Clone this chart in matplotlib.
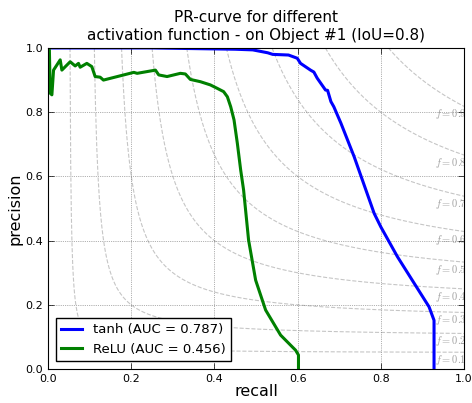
import matplotlib
matplotlib.use("Agg")
import matplotlib.pyplot as plt
import numpy as np

# tanh curve (recall, precision)
tanh_recall = [0.0, 0.25, 0.45, 0.492, 0.528, 0.540, 0.578, 0.599, 0.607, 0.631, 0.639,
               0.647, 0.667, 0.672, 0.680, 0.687, 0.704, 0.736, 0.784, 0.800, 0.840,
               0.916, 0.928, 0.928]
tanh_precision = [1.0, 1.0, 0.996, 0.994, 0.985, 0.980, 0.978, 0.968, 0.952, 0.931, 0.925,
                  0.906, 0.869, 0.868, 0.833, 0.817, 0.766, 0.661, 0.485, 0.443, 0.350,
                  0.194, 0.152, 0.0]

# ReLU curve
relu_recall = [0.0, 0.003, 0.005, 0.009, 0.013, 0.029, 0.033, 0.053, 0.065, 0.073, 0.077,
               0.093, 0.105, 0.113, 0.125, 0.133, 0.206, 0.214, 0.258, 0.266, 0.286,
               0.318, 0.330, 0.342, 0.366, 0.390, 0.407, 0.422, 0.431, 0.439, 0.447,
               0.455, 0.463, 0.470, 0.482, 0.499, 0.523, 0.559, 0.595, 0.602, 0.602]
relu_precision = [1.0, 0.994, 0.859, 0.854, 0.931, 0.963, 0.931, 0.957, 0.944, 0.952, 0.940,
                  0.952, 0.942, 0.911, 0.909, 0.900, 0.924, 0.921, 0.931, 0.916, 0.911,
                  0.921, 0.919, 0.902, 0.895, 0.885, 0.874, 0.864, 0.848, 0.817, 0.776,
                  0.703, 0.620, 0.558, 0.402, 0.277, 0.184, 0.106, 0.059, 0.044, 0.0]

f_scores = [0.1, 0.2, 0.3, 0.4, 0.5, 0.6, 0.7, 0.8, 0.9]

plt.rcParams['mathtext.fontset'] = 'cm'

fig = plt.figure(figsize=(4.72, 4.03), dpi=100)
ax = fig.add_axes([0.102, 0.084, 0.881, 0.797])

# iso-f curves
for f in f_scores:
    x = np.linspace(f / (2 - f), 1, 600)
    y = f * x / (2 * x - f)
    ax.plot(x, y, color='gray', alpha=0.45, linestyle='--', linewidth=0.8)
    ax.text(0.93, f / (2 - f) - 0.025, '$f=%.1f$' % f, color='gray', alpha=0.75,
            fontsize=7.5, ha='left', va='center', clip_on=True)

ax.plot(tanh_recall, tanh_precision, color='b', linewidth=2.2, label='tanh (AUC = 0.787)')
ax.plot(relu_recall, relu_precision, color='g', linewidth=2.2, label='ReLU (AUC = 0.456)')

ax.set_xlim(0, 1)
ax.set_ylim(0, 1)
ax.grid(True, linestyle=':', color='k', linewidth=0.5, alpha=0.6)
ax.tick_params(direction='in', top=True, right=True, labelsize=8, length=4, width=0.5)
ax.set_xlabel('recall', fontsize=11.5, labelpad=0)
ax.set_ylabel('precision', fontsize=11.5, labelpad=2)
ax.set_title('PR-curve for different\nactivation function - on Object #1 (IoU=0.8)',
             fontsize=11)
ax.legend(loc='lower left', fontsize=9.5, fancybox=False, edgecolor='k', framealpha=1,
          borderaxespad=0.6, handlelength=1.6)

fig.savefig('out.png', dpi=100)
